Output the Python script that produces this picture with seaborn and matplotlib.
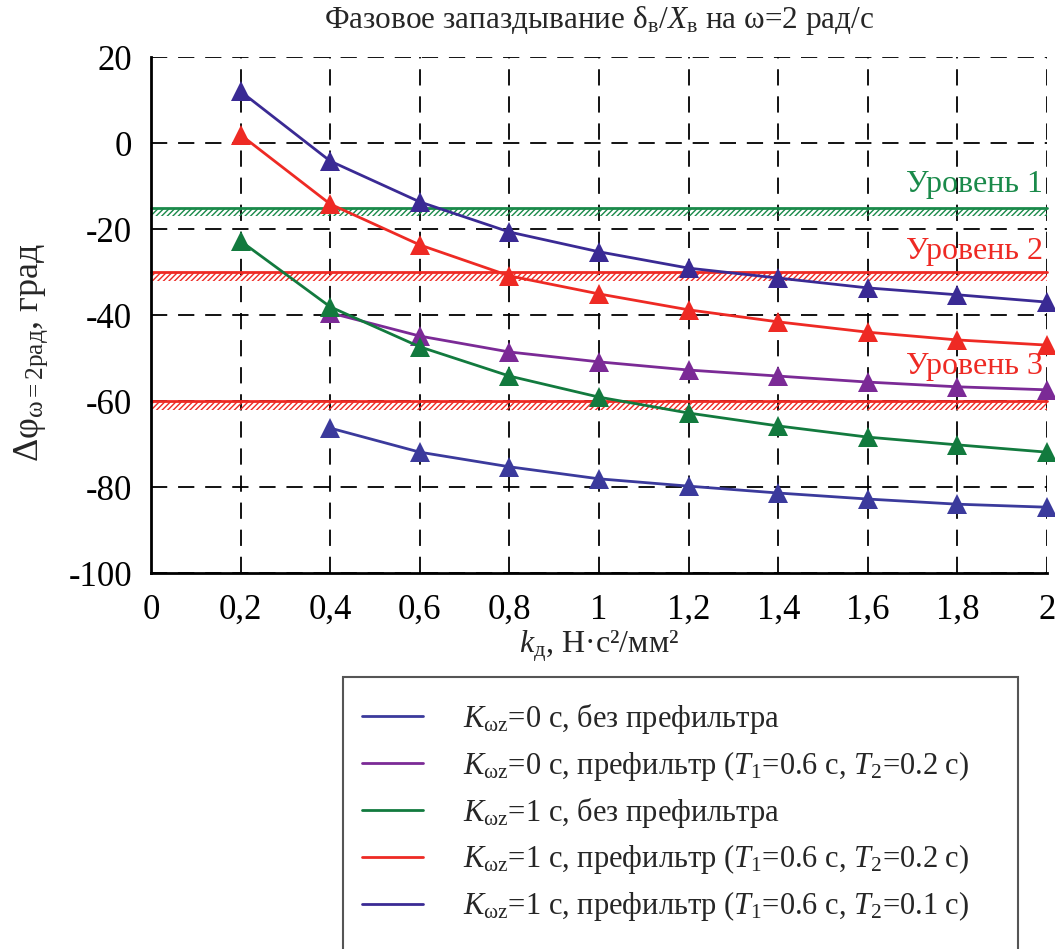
import matplotlib
matplotlib.use("Agg")
import matplotlib.pyplot as plt
from matplotlib.lines import Line2D
from matplotlib.patches import Rectangle
import seaborn as sns
import pandas as pd

sns.set_style("white")
plt.rcParams['font.family'] = ['Liberation Serif', 'DejaVu Serif']
plt.rcParams['mathtext.fontset'] = 'custom'
plt.rcParams['mathtext.rm'] = 'Liberation Serif'
plt.rcParams['mathtext.it'] = 'Liberation Serif:italic'
plt.rcParams['mathtext.bf'] = 'Liberation Serif:bold'
plt.rcParams['hatch.linewidth'] = 1.0

x_vals = [0.2, 0.4, 0.6, 0.8, 1.0, 1.2, 1.4, 1.6, 1.8, 2.0]
k0_noprefilter = [None, -66.3, -71.9, -75.3, -78.1, -79.8, -81.4, -82.8, -84.0, -84.7]
k0_prefilter_02 = [None, -39.5, -44.9, -48.6, -50.9, -52.8, -54.2, -55.6, -56.7, -57.4]
k1_noprefilter = [-22.8, -38.1, -47.4, -54.2, -59.1, -62.8, -65.8, -68.4, -70.2, -71.9]
k1_prefilter_02 = [1.9, -14.2, -23.7, -30.9, -35.1, -38.8, -41.6, -44.0, -45.8, -47.0]
k1_prefilter_01 = [12.0, -4.2, -13.7, -20.7, -25.3, -29.1, -31.4, -33.7, -35.3, -37.0]

levels = [-15, -30, -60]
level_labels = ["Уровень 1", "Уровень 2", "Уровень 3"]
level_colors = ["#1a8a4a", "#ee2a24", "#ee2a24"]
level_text_offsets = [1.9, 1.3, 4.6]

series_names = [
    r"$K_{\mathrm{\omega z}}$=0 с, без префильтра",
    r"$K_{\mathrm{\omega z}}$=0 с, префильтр ($T_{\mathrm{1}}$=0.6 с, $T_{\mathrm{2}}$=0.2 с)",
    r"$K_{\mathrm{\omega z}}$=1 с, без префильтра",
    r"$K_{\mathrm{\omega z}}$=1 с, префильтр ($T_{\mathrm{1}}$=0.6 с, $T_{\mathrm{2}}$=0.2 с)",
    r"$K_{\mathrm{\omega z}}$=1 с, префильтр ($T_{\mathrm{1}}$=0.6 с, $T_{\mathrm{2}}$=0.1 с)",
]
series_values = [k0_noprefilter, k0_prefilter_02, k1_noprefilter, k1_prefilter_02, k1_prefilter_01]
series_colors = ["#3b3a9c", "#7b2a96", "#127a3e", "#ee2a24", "#3a2a94"]

rows = []
for name, vals in zip(series_names, series_values):
    for xv, yv in zip(x_vals, vals):
        if yv is not None:
            rows.append({"k": xv, "phi": yv, "series": name})
df = pd.DataFrame(rows)

fig = plt.figure(figsize=(10.55, 9.49), dpi=100)
ax = fig.add_axes([151/1055, 1-573/949, (1047-151)/1055, (573-57)/949])

ax.set_xlim(0, 2)
ax.set_ylim(-100, 20)
ax.set_xticks([0, 0.2, 0.4, 0.6, 0.8, 1.0, 1.2, 1.4, 1.6, 1.8, 2.0])
ax.set_xticklabels(["0", "0,2", "0,4", "0,6", "0,8", "1", "1,2", "1,4", "1,6", "1,8", "2"])
ax.set_yticks([20, 0, -20, -40, -60, -80, -100])
ax.set_yticklabels(["20", "0", "-20", "-40", "-60", "-80", "-100"])
ax.grid(True, color="black", linestyle=(0, (9, 6)), linewidth=1.3)
ax.set_axisbelow(True)

# levels with hatched bands
for lv, lab, col, off in zip(levels, level_labels, level_colors, level_text_offsets):
    ax.axhspan(lv - 2, lv, facecolor="none", edgecolor=col, hatch="//////", linewidth=0, zorder=1.5)
    ax.axhline(lv, color=col, linewidth=2, zorder=1.6)
    ax.text(1.99, lv + off, lab, color=col, fontsize=23, ha="right", va="bottom", zorder=3)

sns.lineplot(data=df, x="k", y="phi", hue="series", hue_order=series_names,
             palette=series_colors, marker="^", markersize=14, markeredgewidth=0,
             linewidth=2, legend=False, ax=ax, zorder=4)
for ln in ax.lines:
    ln.set_clip_on(False)

for s in ["top", "right"]:
    ax.spines[s].set_visible(False)
for s in ["left", "bottom"]:
    ax.spines[s].set_color("black")
    ax.spines[s].set_linewidth(2)
ax.tick_params(axis="both", direction="out", length=10, width=1.5, labelsize=25, color="black", labelcolor="black")
ax.tick_params(axis="x", pad=5)

ax.set_title("Фазовое запаздывание δ$_{\\mathrm{в}}$/$X_{\\mathrm{в}}$ на ω=2 рад/с", fontsize=22.5, pad=21)
ax.set_xlabel("$k_{\\mathrm{д}}$, Н·с²/мм²", fontsize=23, labelpad=1)
ax.set_ylabel("Δφ$_{\\mathrm{ω=2рад}}$, град", fontsize=26)
ax.yaxis.set_label_coords(-(151 - 50) / 896, 0.428)

# legend frame (extends past the bottom edge as in the reference)
fig.patches.append(Rectangle((343/1055, -0.02), (1018-343)/1055, (1-677/949) + 0.02,
                             transform=fig.transFigure, facecolor="white",
                             edgecolor="#555555", linewidth=1.5, zorder=0))
handles = [Line2D([0], [0], color=c, lw=2) for c in series_colors]
leg = fig.legend(handles, series_names, loc="upper left",
                 fontsize=22, frameon=False,
                 handlelength=2.0, handletextpad=1.3, labelspacing=0.42, borderpad=0.0,
                 borderaxespad=0)
leg.set_bbox_to_anchor((362/1055, 1-702/949), transform=fig.transFigure)

fig.savefig("out.png", dpi=100)
